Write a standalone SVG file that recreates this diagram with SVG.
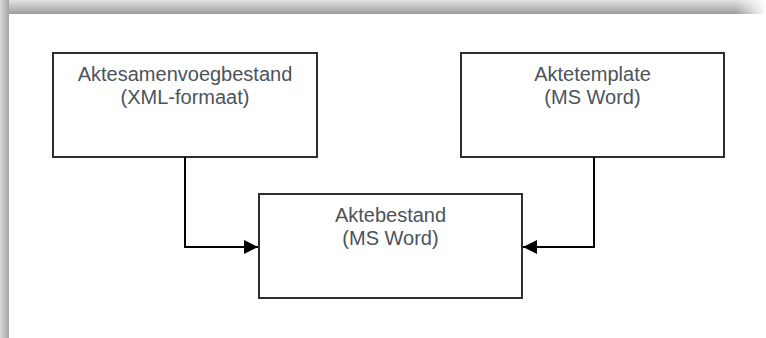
<svg xmlns="http://www.w3.org/2000/svg" width="766" height="338" viewBox="0 0 766 338">
<defs>
<linearGradient id="gTop" x1="0" y1="0" x2="0" y2="1">
<stop offset="0" stop-color="#e4e4e4"/>
<stop offset="1" stop-color="#9c9c9c"/>
</linearGradient>
<linearGradient id="gLeft" x1="0" y1="0" x2="1" y2="0">
<stop offset="0" stop-color="#d8d8d8"/>
<stop offset="1" stop-color="#a4a4a4"/>
</linearGradient>
<linearGradient id="gRight" x1="0" y1="0" x2="1" y2="0">
<stop offset="0" stop-color="#ffffff" stop-opacity="0"/>
<stop offset="1" stop-color="#ffffff" stop-opacity="1"/>
</linearGradient>
<marker id="arr" viewBox="0 0 14 14" refX="14" refY="7" markerWidth="14" markerHeight="14" markerUnits="userSpaceOnUse" orient="auto">
<path d="M0,0 L14,7 L0,14 Z" fill="#000"/>
</marker>
<style>
.box{fill:#fff;stroke:#2e2e2e;stroke-width:2}
.lbl{font-family:"Liberation Sans",Arial,sans-serif;font-size:20px;fill:#4b535c;text-anchor:middle}
.con{fill:none;stroke:#000;stroke-width:2}
</style>
</defs>
<rect x="0" y="0" width="766" height="338" fill="#fff"/>
<rect x="0" y="0" width="766" height="14" fill="url(#gTop)"/>
<rect x="0" y="0" width="9" height="338" fill="url(#gLeft)"/>
<rect x="736" y="0" width="30" height="14" fill="url(#gRight)"/>
<g id="node-aktesamenvoegbestand">
<rect class="box" x="53" y="53" width="264" height="104"/>
<text class="lbl" x="185" y="81">Aktesamenvoegbestand</text>
<text class="lbl" x="185" y="104">(XML-formaat)</text>
</g>
<g id="node-aktetemplate">
<rect class="box" x="461" y="53" width="263" height="104"/>
<text class="lbl" x="592.5" y="81">Aktetemplate</text>
<text class="lbl" x="592.5" y="104">(MS Word)</text>
</g>
<g id="node-aktebestand">
<rect class="box" x="259" y="194" width="263" height="104"/>
<text class="lbl" x="390.5" y="222">Aktebestand</text>
<text class="lbl" x="390.5" y="245">(MS Word)</text>
</g>
<g id="connectors">
<path class="con" d="M185,157 V247 H258" marker-end="url(#arr)"/>
<path class="con" d="M594,157 V247 H523" marker-end="url(#arr)"/>
</g>
</svg>
